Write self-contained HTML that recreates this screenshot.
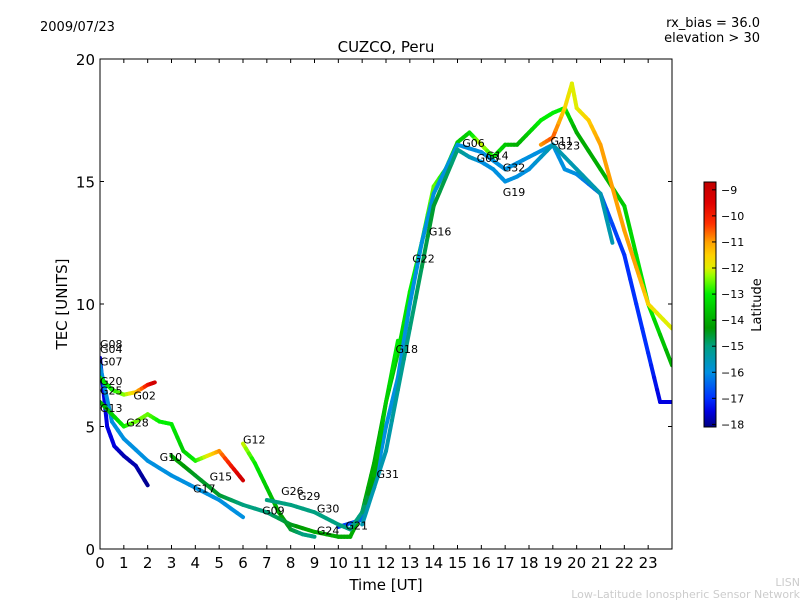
<!DOCTYPE html>
<html><head><meta charset="utf-8">
<style>
body{margin:0;background:#fff;}
svg text{font-family:"DejaVu Sans","Liberation Sans",sans-serif;}
</style></head>
<body>
<svg id="chart" width="800" height="600" xmlns="http://www.w3.org/2000/svg">
<defs>
<linearGradient id="jet" x1="0" y1="1" x2="0" y2="0"></linearGradient>
<clipPath id="pc"><rect x="100" y="59" width="572" height="490"/></clipPath>
</defs>
<text x="40" y="31" font-size="13">2009/07/23</text>
<text x="760" y="27" font-size="13" text-anchor="end">rx_bias = 36.0</text>
<text x="760" y="42" font-size="13" text-anchor="end">elevation &gt; 30</text>
<text x="386" y="52" font-size="15" text-anchor="middle">CUZCO, Peru</text>
<g id="tracks" clip-path="url(#pc)"></g>
<g id="labels"></g>
<rect x="100" y="59" width="572" height="490" fill="none" stroke="#000" stroke-width="1"/>
<g id="axes"></g>
<text x="386" y="590" font-size="15" text-anchor="middle">Time [UT]</text>
<text transform="translate(67,304) rotate(-90)" font-size="15" text-anchor="middle">TEC [UNITS]</text>
<rect x="704" y="182" width="12" height="245" fill="url(#jet)" stroke="#000" stroke-width="1"/>
<g id="cbticks"></g>
<text transform="translate(761,305) rotate(-90)" font-size="13" text-anchor="middle">Latitude</text>
<text x="800" y="586" font-size="11" fill="#ccc" text-anchor="end">LISN</text>
<text x="800" y="598" font-size="11" fill="#ccc" text-anchor="end">Low-Latitude Ionospheric Sensor Network</text>
</svg>
<script>
const xTicks=[0,1,2,3,4,5,6,7,8,9,10,11,12,13,14,15,16,17,18,19,20,21,22,23];
const yTicks=[0,5,10,15,20];
const cbTicks=[-9,-10,-11,-12,-13,-14,-15,-16,-17,-18];
const trackNames=["G08","G07","G20","G13","G12","G24","G21","G22","G11","G19","G31"];
const trackTimes=[
[0,0.3,0.6,1,1.5,2],
[0,0.5,1,2,3,4,5,6],
[0,0.5,1,1.5,2,2.3],
[0,0.5,1,1.5,2,2.5,3,3.5,4,4.5,5,5.5,6],
[6,6.5,7,7.5,8,8.5,9],
[3,4,5,6,7,8,9,10,10.5],
[10,10.5,11,11.5,12,12.5,13,13.5,14,14.5,15,15.5,16,16.5,17,17.5,18,18.5,19,19.5,20,21,22,23,24],
[10,11,11.5,12,12.5,13,13.5,14,14.5,15,16,17,18,19,19.5,20,21,22,23,23.5,24],
[18.5,19,19.5,19.8,20,20.5,21,22,22.5,23,23.5,24],
[11,12,13,14,15,15.5,16,16.5,17,17.5,18,19,20,21,21.5],
[7,8,9,10,10.5,11,11.5,12,12.5]
];
const trackTec=[
[7.8,5,4.2,3.8,3.4,2.6],
[7.5,5.2,4.5,3.6,3.0,2.5,2.0,1.3],
[7,6.5,6.3,6.4,6.7,6.8],
[6,5.5,5,5.2,5.5,5.2,5.1,4,3.6,3.8,4,3.4,2.8],
[4.3,3.5,2.5,1.5,0.8,0.6,0.5],
[3.8,3,2.2,1.8,1.5,1.0,0.7,0.5,0.5],
[0.5,0.5,1.5,3.5,6,8,10.5,12.5,14.8,15.5,16.6,17,16.5,16,16.5,16.5,17,17.5,17.8,18,17,15.5,14,10,7.5],
[0.9,1.2,2.5,5,7,10,12.5,14.5,15.5,16.5,16.2,15.5,16,16.5,15.5,15.3,14.5,12,8,6,6],
[16.5,16.8,18,19,18,17.5,16.5,13,11.5,10,9.5,9],
[1,4,9,14,16.3,16,15.8,15.5,15,15.2,15.5,16.5,15.5,14.5,12.5],
[2,1.8,1.5,1,0.8,1.5,3,6,8.5]
];
const trackLat=[
[-17.5,-17.5,-17.5,-17.8,-17.8,-18],
[-16,-16,-16,-16,-16,-16,-16,-16],
[-13,-13,-12.5,-11.5,-10,-9],
[-14,-13.5,-13,-12.5,-12.5,-13,-13,-13.5,-13,-12,-11,-10,-9],
[-12,-13,-13.5,-14,-14.5,-15,-15],
[-14,-14.5,-14.5,-15,-15,-14.5,-14,-14,-14],
[-14,-14,-14,-14,-14,-13.5,-13,-13,-12.5,-13,-13.5,-13.5,-12,-13,-13.5,-14,-13.5,-13,-13,-13,-14,-14,-13.5,-13,-14],
[-17,-16.5,-16,-16,-16,-16,-16,-16,-16,-16,-16,-16,-16,-16,-16,-16,-16.5,-17,-17,-17.5,-17.5],
[-11,-10.5,-11.5,-12,-12,-11.5,-11,-11,-11,-11.5,-12,-12],
[-15.5,-15.5,-15,-14.5,-15,-15.5,-16,-16,-16,-16,-16,-15.5,-15.5,-15.5,-15.5],
[-15,-15,-15,-15,-15,-15,-14,-13.5,-13]
];
const labelNames=["G08","G04","G07","G20","G25","G13","G02","G28","G10","G17","G15","G12","G26","G29","G09","G30","G24","G21","G31","G18","G22","G16","G06","G03","G14","G32","G19","G11","G23"];
const labelT=[0,0,0,0,0,0,1.4,1.1,2.5,3.9,4.6,6,7.6,8.3,6.8,9.1,9.1,10.3,11.6,12.4,13.1,13.8,15.2,15.8,16.2,16.9,16.9,18.9,19.2];
const labelV=[8.2,8,7.5,6.7,6.3,5.6,6.1,5,3.6,2.3,2.8,4.3,2.2,2.0,1.4,1.5,0.6,0.8,2.9,8.0,11.7,12.8,16.4,15.8,15.9,15.4,14.4,16.5,16.3];
const X=t=>100+t*572/24, Y=v=>549-v*24.5;
const cmap=[[-18.1,[0,0,128]],[-17.5,[0,0,224]],[-17,[0,48,255]],[-16,[0,144,224]],[-15,[0,160,128]],[-14.3,[0,153,0]],[-13.5,[0,204,0]],[-13,[0,238,0]],[-12.3,[150,255,0]],[-12,[224,238,0]],[-11.5,[255,208,0]],[-11,[255,160,0]],[-10.3,[255,48,0]],[-9.5,[224,0,0]],[-8.7,[192,0,0]]];
function jet(l){if(l<=cmap[0][0])return `rgb(${cmap[0][1]})`;
 for(let i=0;i<cmap.length-1;i++){const a=cmap[i],b=cmap[i+1];if(l<=b[0]){const f=(l-a[0])/(b[0]-a[0]);
  return `rgb(${a[1].map((v,k)=>Math.round(v+(b[1][k]-v)*f)).join(',')})`;}}
 return `rgb(${cmap[cmap.length-1][1]})`;}
const NS="http://www.w3.org/2000/svg";
function mk(tag,attrs,parent){const e=document.createElementNS(NS,tag);for(const k in attrs)e.setAttribute(k,attrs[k]);parent.appendChild(e);return e;}
const grad=document.getElementById('jet');
cmap.forEach(s=>{mk('stop',{offset:(s[0]+18.1)/9.4,'stop-color':jet(s[0])},grad);});
const tg=document.getElementById('tracks');
for(let i=0;i<trackTimes.length;i++){
 const ts=trackTimes[i],vs=trackTec[i],ls=trackLat[i];
 for(let j=0;j<ts.length-1;j++){
  for(let s=0;s<4;s++){
   const f0=s/4,f1=(s+1)/4,fm=(s+0.5)/4;
   const l=mk('line',{x1:X(ts[j]+(ts[j+1]-ts[j])*f0),y1:Y(vs[j]+(vs[j+1]-vs[j])*f0),x2:X(ts[j]+(ts[j+1]-ts[j])*f1),y2:Y(vs[j]+(vs[j+1]-vs[j])*f1),stroke:jet(ls[j]+(ls[j+1]-ls[j])*fm),'stroke-width':4,'stroke-linecap':'round'},tg);
   
   
  }
 }
}
const lg=document.getElementById('labels');
for(let i=0;i<labelNames.length;i++){
 const t=mk('text',{x:X(labelT[i]),y:Y(labelV[i]),'font-size':11},lg);
 t.textContent=labelNames[i];
 
 
}
const ag=document.getElementById('axes');
xTicks.forEach(v=>{const x=X(v);
 const a=mk('line',{x1:x,y1:549,x2:x,y2:545,stroke:'#000'},ag);
 mk('line',{x1:x,y1:59,x2:x,y2:63,stroke:'#000'},ag);
 const t=mk('text',{x:x,y:568,'font-size':15,'text-anchor':'middle'},ag);t.textContent=v;
 });
yTicks.forEach(v=>{const y=Y(v);
 const a=mk('line',{x1:100,y1:y,x2:104,y2:y,stroke:'#000'},ag);
 mk('line',{x1:672,y1:y,x2:668,y2:y,stroke:'#000'},ag);
 const t=mk('text',{x:95,y:y+6,'font-size':15,'text-anchor':'end'},ag);t.textContent=v;
 });
const cg=document.getElementById('cbticks');
cbTicks.forEach(v=>{const y=182+(-8.7-v)*(245/9.4);
 mk('line',{x1:712,y1:y,x2:716,y2:y,stroke:'#000'},cg);
 const t=mk('text',{x:721,y:y+4,'font-size':11},cg);t.textContent='\u2212'+Math.abs(v);
 });
</script>
</body></html>
